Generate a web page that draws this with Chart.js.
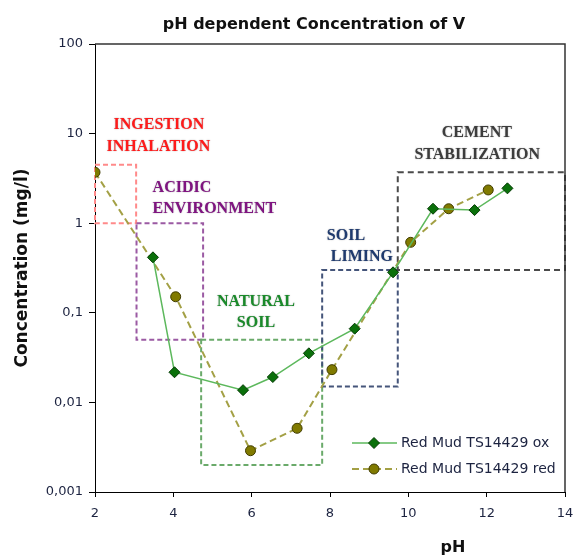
<!DOCTYPE html>
<html>
<head>
<meta charset="utf-8">
<script src="https://cdn.jsdelivr.net/npm/chart.js@4/dist/chart.umd.min.js"></script>
<style>
  html, body { margin: 0; padding: 0; background: #fff; }
  #wrap { width: 575px; height: 559px; }
</style>
</head>
<body>
<div id="wrap"><canvas id="chart" width="575" height="559"></canvas></div>
<script>
// ── Data ──────────────────────────────────────────────────────────────────
const phOx    = [3.48, 4.03, 5.78, 6.54, 7.46, 8.63, 9.61, 10.63, 11.69, 12.53];
const concOx  = [0.416, 0.0217, 0.0137, 0.0192, 0.0353, 0.0665, 0.283, 1.45, 1.40, 2.45];
const phRed   = [2.0, 4.06, 5.97, 7.16, 8.05, 10.06, 11.03, 12.04];
const concRed = [3.7, 0.151, 0.00289, 0.00514, 0.0232, 0.612, 1.45, 2.35];

const seriesNames = ["Red Mud TS14429 ox", "Red Mud TS14429 red"];

const yTicks      = [0.001, 0.01, 0.1, 1, 10, 100];
const yTickLabels = ["0,001", "0,01", "0,1", "1", "10", "100"];

// application zones: pH range and concentration range of each dashed box
const zoneNames = ["ingestion", "acidic", "natural", "liming", "cement"];
const zonePh    = [[2.0, 3.05], [3.06, 4.76], [4.71, 7.8], [7.8, 9.73], [9.73, 14]];
const zoneConc  = [[1.0, 4.5], [0.05, 1.0], [0.002, 0.05], [0.015, 0.3], [0.3, 3.7]];

// zone captions, one entry per line: text, pH, concentration
const captionText = ["INGESTION", "INHALATION", "ACIDIC", "ENVIRONMENT", "NATURAL", "SOIL",
                     "SOIL", "LIMING", "CEMENT", "STABILIZATION"];
const captionPh   = [3.63, 3.62, 3.47, 3.47, 6.11, 6.11, 7.92, 8.02, 11.75, 11.76];
const captionConc = [12.5, 7.1, 2.47, 1.44, 0.133, 0.077, 0.72, 0.423, 10.2, 5.77];
const captionZone = [0, 0, 1, 1, 2, 2, 3, 3, 4, 4];

// ── Styles ────────────────────────────────────────────────────────────────
const SANS  = "'DejaVu Sans', Verdana, sans-serif";
const SERIF = "'Liberation Serif', 'Times New Roman', serif";
const TICK  = "#1c2340";
const zoneBox   = ["#ff8a8a", "#9b5aa3", "#6aaa6a", "#45557a", "#4a4a4a"];
const zoneText  = ["#ff1a1a", "#7f1480", "#1a8a2a", "#1f3a6e", "#3c3c3c"];
const zoneAlign = ["center", "left", "center", "left", "center"];

// ── Plugins ───────────────────────────────────────────────────────────────
const zonesPlugin = {
  id: "zones",
  beforeDatasetsDraw(chart) {
    const { ctx, scales: { x, y } } = chart;
    ctx.save();
    zoneNames.forEach((_, i) => {
      const x0 = x.getPixelForValue(zonePh[i][0]);
      const x1 = x.getPixelForValue(zonePh[i][1]);
      const y0 = y.getPixelForValue(zoneConc[i][1]);
      const y1 = y.getPixelForValue(zoneConc[i][0]);
      ctx.strokeStyle = zoneBox[i];
      ctx.lineWidth = 2;
      ctx.setLineDash(i === 4 ? [6, 4] : [5, 3]);
      ctx.strokeRect(x0, y0, x1 - x0, y1 - y0);
    });
    ctx.setLineDash([]);
    ctx.font = "bold 16px " + SERIF;
    ctx.textBaseline = "middle";
    ctx.shadowColor = "rgba(0,0,0,0.35)";
    ctx.shadowBlur = 1.5;
    captionText.forEach((t, i) => {
      const z = captionZone[i];
      ctx.fillStyle = zoneText[z];
      ctx.textAlign = zoneAlign[z];
      ctx.fillText(t, x.getPixelForValue(captionPh[i]), y.getPixelForValue(captionConc[i]));
    });
    ctx.restore();
  },
};

const framePlugin = {
  id: "frame",
  afterDraw(chart) {
    const { ctx, chartArea: a } = chart;
    ctx.save();
    ctx.strokeStyle = "#333";
    ctx.lineWidth = 1.5;
    ctx.beginPath();
    ctx.moveTo(a.left, a.top);
    ctx.lineTo(a.right, a.top);
    ctx.lineTo(a.right, a.bottom);
    ctx.stroke();

    // title and x axis title
    ctx.fillStyle = "#111";
    ctx.textAlign = "center";
    ctx.textBaseline = "middle";
    ctx.font = "bold 16px " + SANS;
    ctx.fillText("pH dependent Concentration of V", 314, 25);
    ctx.font = "bold 16px " + SANS;
    ctx.fillText("pH", 453, 548);

    // legend inside the plot
    chart.data.datasets.forEach((ds, i) => {
      const ly = 443 + i * 26;
      ctx.strokeStyle = ds.borderColor;
      ctx.lineWidth = ds.borderWidth;
      ctx.setLineDash(ds.borderDash || []);
      ctx.beginPath();
      ctx.moveTo(352, ly);
      ctx.lineTo(397, ly);
      ctx.stroke();
      ctx.setLineDash([]);
      ctx.fillStyle = ds.pointBackgroundColor;
      ctx.strokeStyle = ds.pointBorderColor;
      ctx.lineWidth = 1;
      Chart.helpers.drawPoint(ctx, { pointStyle: ds.pointStyle, radius: ds.pointRadius, rotation: 0, borderWidth: 1 }, 374, ly);
      ctx.fillStyle = TICK;
      ctx.textAlign = "left";
      ctx.font = "14px " + SANS;
      ctx.fillText(ds.label, 401, ly);
    });
    ctx.restore();
  },
};

// ── Chart ─────────────────────────────────────────────────────────────────
new Chart(document.getElementById("chart"), {
  type: "line",
  data: {
    datasets: [
      {
        label: seriesNames[0],
        data: phOx.map((p, i) => ({ x: p, y: concOx[i] })),
        borderColor: "#5cb85c",
        borderWidth: 1.5,
        pointStyle: "rectRot",
        pointRadius: 5.5,
        pointBackgroundColor: "#0a700a",
        pointBorderColor: "#033a03",
        pointBorderWidth: 1,
        tension: 0,
      },
      {
        label: seriesNames[1],
        data: phRed.map((p, i) => ({ x: p, y: concRed[i] })),
        borderColor: "#a3a045",
        borderWidth: 2,
        borderDash: [7, 4],
        pointStyle: "circle",
        pointRadius: 5,
        pointBackgroundColor: "#807a00",
        pointBorderColor: "#403c00",
        pointBorderWidth: 1,
        tension: 0,
      },
    ],
  },
  options: {
    responsive: false,
    animation: false,
    layout: { padding: { top: 44, right: 10, left: 0, bottom: 0 } },
    plugins: {
      legend: { display: false },
      title: { display: false },
      tooltip: { enabled: false },
    },
    scales: {
      x: {
        type: "linear",
        min: 2,
        max: 14,
        afterFit: (s) => { s.height = 67; s.paddingLeft = 0; s.paddingRight = 0; },
        ticks: { stepSize: 2, color: TICK, font: { family: SANS, size: 13 }, padding: 9 },
        grid: { drawOnChartArea: false, tickLength: 5, color: "#000" },
        border: { color: "#000", width: 1 },
      },
      y: {
        type: "logarithmic",
        min: 0.001,
        max: 100,
        afterFit: (s) => { s.width = 95; s.paddingTop = 0; s.paddingBottom = 0; },
        afterBuildTicks: (s) => { s.ticks = yTicks.map((v) => ({ value: v })); },
        ticks: {
          color: TICK,
          font: { family: SANS, size: 13 },
          padding: 6,
          callback: (v) => yTickLabels[yTicks.indexOf(v)] ?? "",
        },
        grid: { drawOnChartArea: false, tickLength: 6, color: "#000" },
        border: { color: "#000", width: 1 },
        title: {
          display: true,
          text: "Concentration (mg/l)",
          color: "#111",
          font: { family: SANS, size: 17, weight: "bold" },
          padding: { top: 12, bottom: 0 },
        },
      },
    },
  },
  plugins: [zonesPlugin, framePlugin],
});
</script>
</body>
</html>
